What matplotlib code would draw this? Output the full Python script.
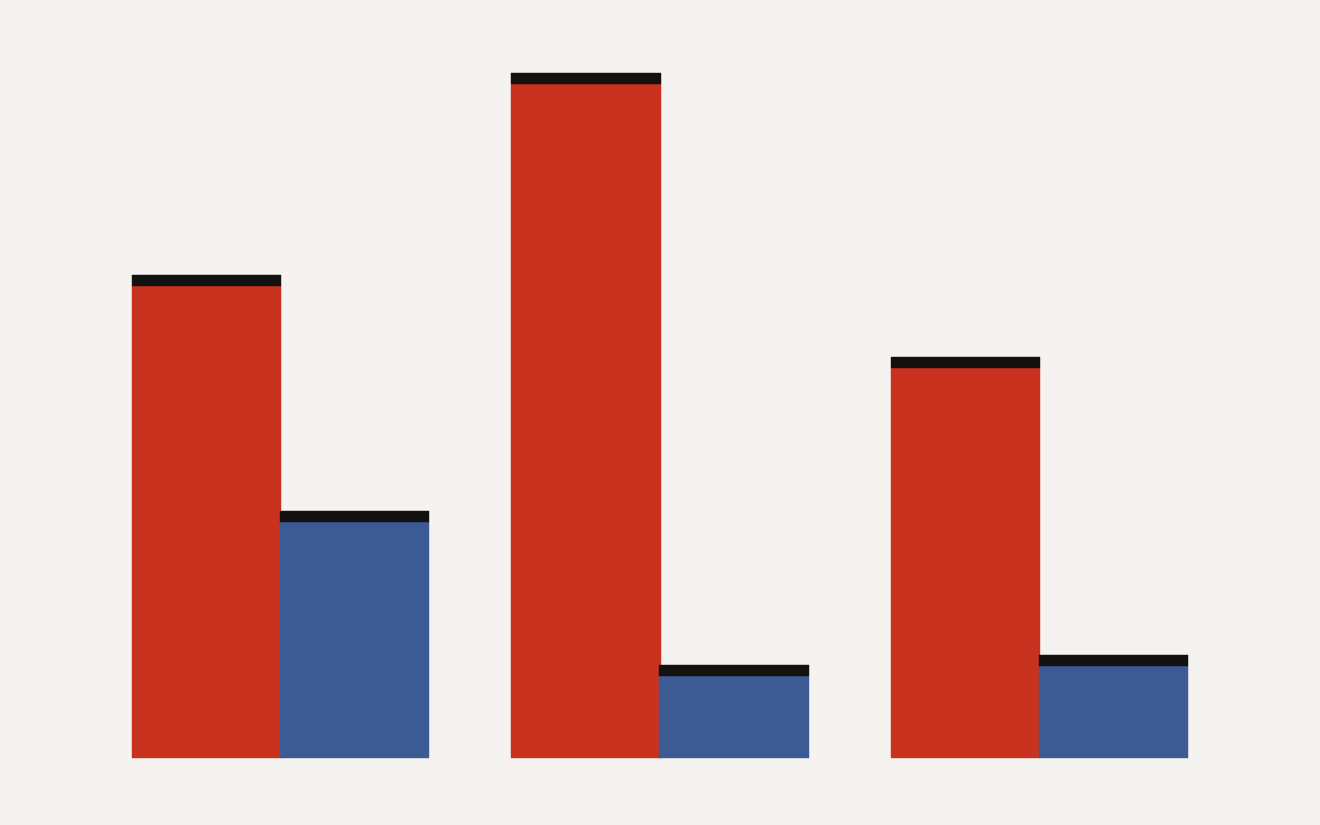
import numpy as np
import matplotlib
matplotlib.use("Agg")
import matplotlib.pyplot as plt

# Data (bar totals, black cap included)
groups = ["A", "B", "C"]
red_values = [48.3, 68.5, 40.1]
blue_values = [24.7, 9.3, 10.3]
cap = 1.05

bg = "#F4F3EF"
red = "#C9321F"
blue = "#3C5B95"
black = "#141210"

fig = plt.figure(figsize=(13.2, 8.25), dpi=100, facecolor=bg)
ax = fig.add_axes([0, 0, 1, 1])
ax.set_facecolor(bg)

x = np.arange(len(groups))
width = 0.394
off = 0.195

for vals, color, sign in [(red_values, red, -1), (blue_values, blue, 1)]:
    vals = np.array(vals)
    ax.bar(x + sign * off, vals - cap, width, color=color,
           edgecolor=color, linewidth=0.3)
    ax.bar(x + sign * off, cap, width, bottom=vals - cap, color=black,
           edgecolor=black, linewidth=0.3)

ax.set_xlim(-0.7391, 2.7391)
ax.set_ylim(-6.67, 75.83)
ax.axis("off")

fig.savefig("out.png", dpi=100, facecolor=bg)
